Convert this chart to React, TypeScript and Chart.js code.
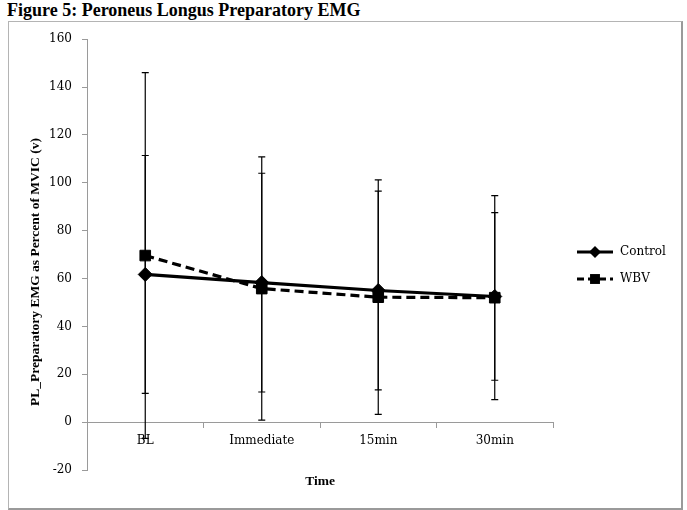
import React, { useEffect, useRef } from "react";
import { Chart, registerables } from "chart.js";

Chart.register(...registerables);

// Time points and series (mean ± SD, percent of MVIC)
const timePoints = ["BL", "Immediate", "15min", "30min"];
const controlMeans = [61.7, 58.3, 55.0, 52.5];
const controlSD = [49.7, 45.7, 41.5, 35.0];
const wbvMeans = [69.6, 55.8, 52.2, 52.0];
const wbvSD = [76.4, 55.0, 49.0, 42.6];

const yMin = -20;
const yMax = 160;
const yStep = 20;

const TICK_FONT = { family: "'DejaVu Serif', serif", size: 12 };
const TITLE_FONT = "bold 13.5px 'Liberation Serif', 'DejaVu Serif', serif";
const AXIS_GREY = "#9a9a9a";

// Vertical error bars with short caps, drawn under the series lines
const errorBarsPlugin = {
  id: "errorBars",
  beforeDatasetsDraw(chart: any) {
    const { ctx } = chart;
    const yScale = chart.scales.y;
    chart.data.datasets.forEach((ds: any, i: number) => {
      const meta = chart.getDatasetMeta(i);
      ctx.save();
      ctx.strokeStyle = "#000";
      ctx.lineWidth = 1.2;
      meta.data.forEach((pt: any, j: number) => {
        const m = ds.data[j];
        const e = ds.errors[j];
        const top = yScale.getPixelForValue(m + e);
        const bot = yScale.getPixelForValue(m - e);
        ctx.beginPath();
        ctx.moveTo(pt.x, top);
        ctx.lineTo(pt.x, bot);
        ctx.moveTo(pt.x - 3.5, top);
        ctx.lineTo(pt.x + 3.5, top);
        ctx.moveTo(pt.x - 3.5, bot);
        ctx.lineTo(pt.x + 3.5, bot);
        ctx.stroke();
      });
      ctx.restore();
    });
  },
};

// Axis titles and a line-with-marker legend on the right
const decorPlugin = {
  id: "decor",
  afterDraw(chart: any) {
    const { ctx, chartArea } = chart;
    ctx.save();
    ctx.fillStyle = "#000";
    ctx.font = TITLE_FONT;
    ctx.textAlign = "center";
    ctx.textBaseline = "middle";
    ctx.fillText("Time", (chartArea.left + chartArea.right) / 2, 460);

    ctx.save();
    ctx.translate(27, 250);
    ctx.rotate(-Math.PI / 2);
    ctx.fillText("PL_Preparatory EMG as Percent of MVIC (v)", 0, 0);
    ctx.restore();

    const x0 = chartArea.right + 24;
    const x1 = chartArea.right + 60;
    const xm = (x0 + x1) / 2;
    const rows = [
      { label: chart.data.datasets[0].label, y: 230, dash: [] as number[], style: "rectRot", r: 6 },
      { label: chart.data.datasets[1].label, y: 257, dash: [7, 4], style: "rect", r: 7 },
    ];
    rows.forEach((row) => {
      ctx.strokeStyle = "#000";
      ctx.lineWidth = 3;
      ctx.setLineDash(row.dash);
      ctx.beginPath();
      ctx.moveTo(x0, row.y);
      ctx.lineTo(x1, row.y);
      ctx.stroke();
      ctx.setLineDash([]);
      ctx.fillStyle = "#000";
      ctx.beginPath();
      if (row.style === "rectRot") {
        ctx.moveTo(xm - row.r, row.y);
        ctx.lineTo(xm, row.y - row.r);
        ctx.lineTo(xm + row.r, row.y);
        ctx.lineTo(xm, row.y + row.r);
        ctx.closePath();
      } else {
        const h = row.r * Math.SQRT1_2;
        ctx.rect(xm - h, row.y - h, 2 * h, 2 * h);
      }
      ctx.fill();
      ctx.font = "12px 'DejaVu Serif', serif";
      ctx.textAlign = "left";
      ctx.fillText(row.label, x1 + 7, row.y);
    });
    ctx.restore();
  },
};

export default function App() {
  const canvasRef = useRef<HTMLCanvasElement | null>(null);

  useEffect(() => {
    if (!canvasRef.current) return;
    const chart = new Chart(canvasRef.current, {
      type: "line",
      data: {
        labels: timePoints,
        datasets: [
          {
            label: "Control",
            data: controlMeans,
            errors: controlSD,
            borderColor: "#000",
            backgroundColor: "#000",
            borderWidth: 3.2,
            pointStyle: "rectRot",
            pointRadius: 7,
            pointBorderWidth: 1,
            tension: 0,
          } as any,
          {
            label: "WBV",
            data: wbvMeans,
            errors: wbvSD,
            borderColor: "#000",
            backgroundColor: "#000",
            borderWidth: 3.2,
            borderDash: [9, 5],
            pointStyle: "rect",
            pointRadius: 7.5,
            pointBorderWidth: 1,
            tension: 0,
          } as any,
        ],
      },
      options: {
        animation: false,
        responsive: false,
        maintainAspectRatio: false,
        layout: { padding: { top: 16, right: 128, bottom: 38, left: 0 } },
        plugins: {
          legend: { display: false },
          tooltip: { enabled: false },
          title: { display: false },
        },
        scales: {
          x: {
            type: "category",
            position: { y: 0 } as any,
            offset: true,
            grid: {
              offset: true,
              drawOnChartArea: false,
              tickLength: 5,
              color: AXIS_GREY,
            },
            border: { color: AXIS_GREY, width: 1 },
            ticks: { color: "#000", font: TICK_FONT, padding: 7 },
          },
          y: {
            min: yMin,
            max: yMax,
            grid: {
              drawOnChartArea: false,
              tickLength: 5,
              color: AXIS_GREY,
            },
            border: { color: AXIS_GREY, width: 1 },
            ticks: { stepSize: yStep, color: "#000", font: TICK_FONT, padding: 10 },
            afterFit(scale: any) {
              scale.width = 78;
            },
          },
        },
      },
      plugins: [errorBarsPlugin, decorPlugin],
    });
    return () => chart.destroy();
  }, []);

  return (
    <div style={{ position: "absolute", left: 0, top: 0, width: 687, height: 510, background: "#fff" }}>
      <div
        style={{
          position: "absolute",
          left: 7,
          top: 0,
          font: "bold 18px 'Liberation Serif', 'Times New Roman', serif",
          color: "#000",
          whiteSpace: "nowrap",
        }}
      >
        Figure 5: Peroneus Longus Preparatory EMG
      </div>
      <div
        style={{
          position: "absolute",
          left: 8,
          top: 21,
          width: 672,
          height: 486,
          borderTop: "1px solid #b4b4b4",
          borderLeft: "1px solid #b4b4b4",
          borderRight: "2px solid #9a9a9a",
          borderBottom: "2px solid #9a9a9a",
        }}
      >
        <canvas ref={canvasRef} width={672} height={486} style={{ display: "block" }} />
      </div>
    </div>
  );
}
